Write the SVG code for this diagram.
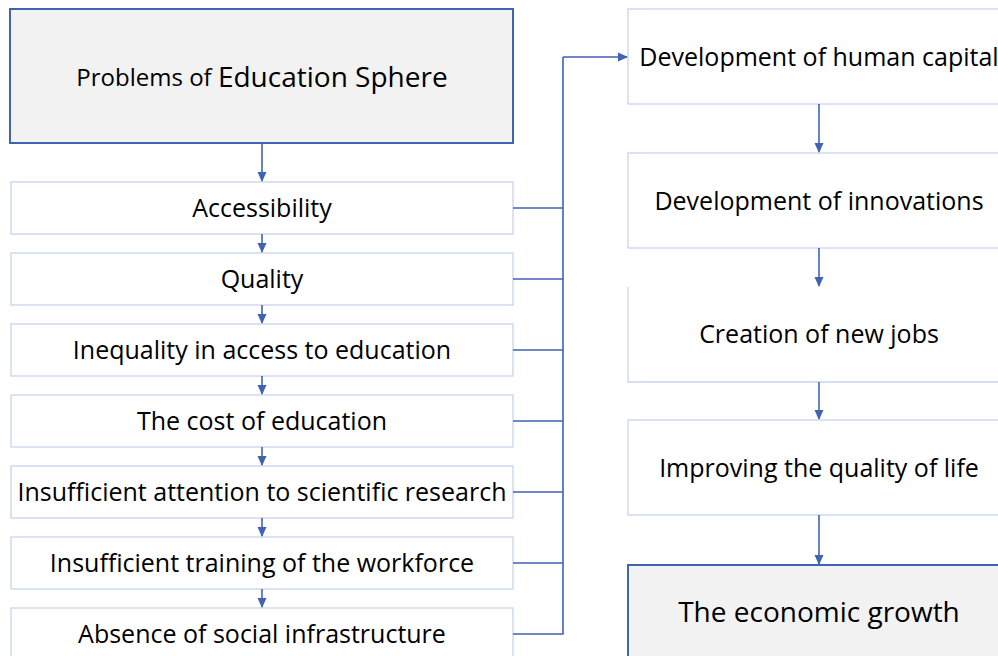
<svg xmlns="http://www.w3.org/2000/svg" width="998" height="656" viewBox="0 0 998 656">
<style>
.t{font-family:"Open Sans","Liberation Sans",sans-serif;font-size:25px;fill:#000;text-anchor:middle;dominant-baseline:central}
.lb{fill:#fff;stroke:#c9d3ec;stroke-width:1.3}
.hb{fill:#f2f2f2;stroke:#4163b3;stroke-width:2}
.c{fill:none;stroke:#4163b3;stroke-width:1.6}
</style>
<defs>
<marker id="ah" markerWidth="10" markerHeight="10" refX="9" refY="5" orient="auto" markerUnits="userSpaceOnUse">
<path d="M0,0.5 L10,5 L0,9.5 z" fill="#4163b3"/>
</marker>
</defs>
<rect width="998" height="656" fill="#fff"/>
<g id="n-problems"><rect class="hb" x="10" y="9" width="503" height="134"/><text class="t" x="262" y="76"><tspan font-size="24">Problems of </tspan><tspan font-size="28">Education Sphere</tspan></text></g>
<g id="n-access"><rect class="lb" x="11" y="182" width="502" height="52"/><text class="t" x="262" y="207">Accessibility</text></g>
<g id="n-quality"><rect class="lb" x="11" y="253" width="502" height="52"/><text class="t" x="262" y="278">Quality</text></g>
<g id="n-inequality"><rect class="lb" x="11" y="324" width="502" height="52"/><text class="t" x="262" y="349">Inequality in access to education</text></g>
<g id="n-cost"><rect class="lb" x="11" y="395" width="502" height="52"/><text class="t" x="262" y="420">The cost of education</text></g>
<g id="n-research"><rect class="lb" x="11" y="466" width="502" height="52"/><text class="t" x="262" y="491">Insufficient attention to scientific research</text></g>
<g id="n-training"><rect class="lb" x="11" y="537" width="502" height="52"/><text class="t" x="262" y="562">Insufficient training of the workforce</text></g>
<g id="n-infra"><rect class="lb" x="11" y="608" width="502" height="60"/><text class="t" x="262" y="633">Absence of social infrastructure</text></g>
<g id="n-human"><rect class="lb" x="628" y="9" width="382" height="95"/><text class="t" x="819" y="56">Development of human capital</text></g>
<g id="n-innov"><rect class="lb" x="628" y="153" width="382" height="95"/><text class="t" x="819" y="200">Development of innovations</text></g>
<g id="n-jobs"><rect x="628" y="287" width="382" height="95" fill="#fff"/><path class="lb" d="M628,287 V382 H1010" fill="none"/><text class="t" x="819" y="333">Creation of new jobs</text></g>
<g id="n-life"><rect class="lb" x="628" y="420" width="382" height="95"/><text class="t" x="819" y="467">Improving the quality of life</text></g>
<g id="n-growth"><rect class="hb" x="628" y="565" width="382" height="110"/><text class="t" x="819" y="611" style="font-size:28px">The economic growth</text></g>
<g id="connectors">
<path class="c" d="M262,143 V181" marker-end="url(#ah)"/>
<path class="c" d="M262,234 V252" marker-end="url(#ah)"/>
<path class="c" d="M262,305 V323" marker-end="url(#ah)"/>
<path class="c" d="M262,376 V394" marker-end="url(#ah)"/>
<path class="c" d="M262,447 V465" marker-end="url(#ah)"/>
<path class="c" d="M262,518 V536" marker-end="url(#ah)"/>
<path class="c" d="M262,589 V607" marker-end="url(#ah)"/>
<path class="c" d="M513,208 H563 M513,279 H563 M513,350 H563 M513,421 H563 M513,492 H563 M513,563 H563 M513,634 H563 V57"/>
<path class="c" d="M563,57 H627" marker-end="url(#ah)"/>
<path class="c" d="M819,104 V152" marker-end="url(#ah)"/>
<path class="c" d="M819,248 V286" marker-end="url(#ah)"/>
<path class="c" d="M819,382 V419" marker-end="url(#ah)"/>
<path class="c" d="M819,515 V564" marker-end="url(#ah)"/>
</g>
</svg>
